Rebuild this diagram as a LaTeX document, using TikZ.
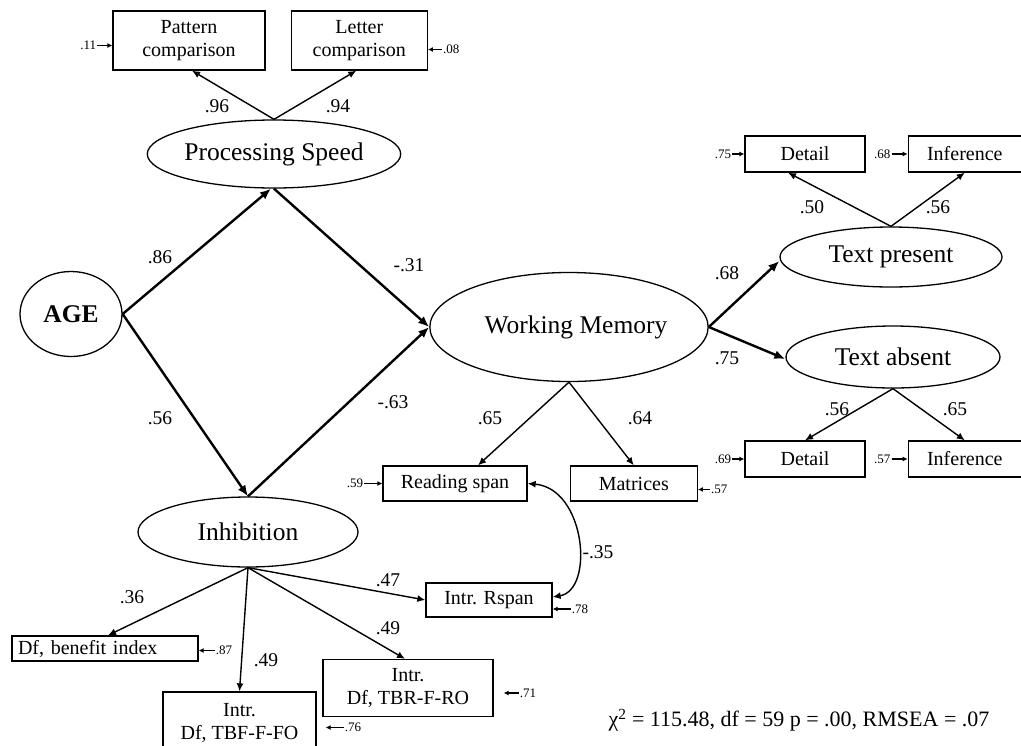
\documentclass[tikz,border=0pt]{standalone}
\usepackage{fontspec}
\setmainfont{Liberation Serif}
\usepackage{tikz}
\usetikzlibrary{arrows.meta,positioning,shapes.geometric}
\newcommand{\latfont}{\fontsize{25.5}{27}\selectfont}
\newcommand{\boxfont}{\fontsize{20}{23}\selectfont}
\newcommand{\coeffont}{\fontsize{19.5}{21}\selectfont}
\newcommand{\resfont}{\fontsize{13}{14}\selectfont}
\newcommand{\fitfont}{\fontsize{22}{24}\selectfont}

\begin{document}
\begin{tikzpicture}[
  x=1pt, y=-1pt,
  >={Latex[length=8pt,width=7pt]},
  lat/.style={draw, ellipse, line width=1.3pt, inner sep=0pt, font=\latfont},
  box/.style={draw, line width=1.3pt, align=center, inner sep=0pt, font=\boxfont},
  line/.style={->, line width=2.4pt, >={Latex[length=11pt,width=9pt]}},
  load/.style={->, line width=1.4pt},
  coef/.style={font=\coeffont, inner sep=1pt},
  res/.style={font=\resfont, inner sep=1pt},
  resarr/.style={->, line width=1.3pt, >={Latex[length=5pt,width=5pt]}}
]
\useasboundingbox (0,0) rectangle (1021,745);

% latent variables
\node[lat, minimum width=102pt, minimum height=85pt, font=\latfont\bfseries] (age) at (71,314) {AGE};
\node[lat, minimum width=238pt, minimum height=68pt] (ps) at (274,154) {Processing Speed};
\node[lat, minimum width=219pt, minimum height=109pt] (wm) at (569,327) {\hspace*{14pt}Working Memory};
\node[lat, minimum width=220pt, minimum height=70pt] (inh) at (248,532) {Inhibition};
\node[lat, minimum width=222pt, minimum height=60pt] (tp) at (891,257) {Text present};
\node[lat, minimum width=214pt, minimum height=62pt] (ta) at (893,357) {Text absent};

% observed measures
\node[box, minimum width=152pt, minimum height=59pt] (pc) at (189,40.5) {Pattern\\comparison};
\node[box, minimum width=136pt, minimum height=59pt, right=25pt of pc] (lc) {Letter\\comparison};
\node[box, minimum width=120pt, minimum height=36pt] (dt1) at (805,154) {Detail};
\node[box, minimum width=113pt, minimum height=36pt, right=42pt of dt1] (inf1) {Inference};
\node[box, minimum width=120pt, minimum height=36pt] (dt2) at (805,459) {Detail};
\node[box, minimum width=113pt, minimum height=36pt, right=42pt of dt2] (inf2) {Inference};
\node[box, minimum width=144pt, minimum height=35pt] (rs) at (455,483.5) {Reading span};
\node[box, minimum width=127pt, minimum height=35pt, right=42pt of rs] (mat) {Matrices};
\node[box, minimum width=126pt, minimum height=34pt] (ir) at (489,600) {Intr. Rspan};
\node[box, minimum width=186pt, minimum height=25pt, text width=174pt, align=left] (dfb) at (105,648.5) {Df, benefit index};
\node[box, minimum width=153pt, minimum height=61pt] (tbf) at (239.5,722.5) {Intr.\\Df, TBF-F-FO};
\node[box, minimum width=170pt, minimum height=57pt] (tbr) at (408,688) {Intr.\\Df, TBR-F-RO};

% structural paths
\draw[line] (age.east) -- ([xshift=-3pt]ps.south);
\draw[line] (ps.south) -- (wm.west);
\draw[line] (age.east) -- (inh.north);
\draw[line] (inh.north) -- (wm.west);
\draw[line] (wm.east) -- ([yshift=-4pt]tp.west);
\draw[line] (wm.east) -- ([yshift=-2pt]ta.west);

% loadings
\draw[load] (ps.north) -- ([xshift=3pt]pc.south);
\draw[load] (ps.north) -- ([xshift=-3pt]lc.south);
\draw[load] (tp.north) -- ([xshift=-17pt]dt1.south);
\draw[load] (tp.north) -- (inf1.south);
\draw[load] (ta.south) -- (dt2.north);
\draw[load] (ta.south) -- (inf2.north);
\draw[load] (wm.south) -- ([xshift=23pt]rs.north);
\draw[load] (wm.south) -- (mat.north);
\draw[load] (inh.south) -- ([xshift=3pt]dfb.north);
\draw[load] (inh.south) -- (tbf.north);
\draw[load] (inh.south) -- ([xshift=-3pt]tbr.north);
\draw[load] (inh.south) -- (ir.west);
\draw[load, <->] (rs.east) .. controls +(58,5) and +(42,-7) .. ([yshift=3pt]ir.east);

% coefficients
\node[coef] (c1) at (217,106) {.96};
\node[coef] (c2) at (338,106) {.94};
\node[coef] (c3) at (160,257) {.86};
\node[coef] (c4) at (160,418) {.56};
\node[coef] (c5) at (409,265) {-.31};
\node[coef] (c6) at (393,402) {-.63};
\node[coef] (c7) at (727,273) {.68};
\node[coef] (c8) at (727,358) {.75};
\node[coef] (c9) at (812,207) {.50};
\node[coef] (c10) at (938,207) {.56};
\node[coef] (c11) at (837,409) {.56};
\node[coef] (c12) at (955,409) {.65};
\node[coef] (c13) at (490,418) {.65};
\node[coef] (c14) at (640,418) {.64};
\node[coef] (c15) at (598,552) {-.35};
\node[coef] (c16) at (132,597) {.36};
\node[coef] (c17) at (388,580) {.47};
\node[coef] (c18) at (388,628) {.49};
\node[coef] (c19) at (266,660) {.49};

% residuals
\node[res, left=15pt of pc, yshift=-5pt] (e-pc) {.11};
\draw[resarr] (e-pc) -- (e-pc -| pc.west);
\node[res, right=14pt of lc, yshift=-9pt] (e-lc) {.08};
\draw[resarr] (e-lc) -- (e-lc -| lc.east);
\node[res, left=12pt of dt1] (e-dt1) {.75};
\draw[resarr] (e-dt1) -- (e-dt1 -| dt1.west);
\node[res, left=16pt of inf1] (e-inf1) {.68};
\draw[resarr] (e-inf1) -- (e-inf1 -| inf1.west);
\node[res, left=12pt of dt2] (e-dt2) {.69};
\draw[resarr] (e-dt2) -- (e-dt2 -| dt2.west);
\node[res, left=16pt of inf2] (e-inf2) {.57};
\draw[resarr] (e-inf2) -- (e-inf2 -| inf2.west);
\node[res, left=18pt of rs] (e-rs) {.59};
\draw[resarr] (e-rs) -- (e-rs -| rs.west);
\node[res, right=12pt of mat, yshift=-6pt] (e-mat) {.57};
\draw[resarr] (e-mat) -- (e-mat -| mat.east);
\node[res, right=18pt of ir, yshift=-9pt] (e-ir) {.78};
\draw[resarr] (e-ir) -- (e-ir -| ir.east);
\node[res, right=16pt of dfb, yshift=-2pt] (e-dfb) {.87};
\draw[resarr] (e-dfb) -- (e-dfb -| dfb.east);
\node[res, right=27pt of tbf, yshift=-5pt] (e-tbf) {.76};
\draw[resarr, shorten >=9pt] (e-tbf) -- (e-tbf -| tbf.east);
\node[res, right=25pt of tbr, yshift=-5pt] (e-tbr) {.71};
\draw[resarr, shorten >=10pt] (e-tbr) -- (e-tbr -| tbr.east);

% fit
\node[font=\fitfont] (fit) at (799,720) {χ\textsuperscript{2} = 115.48, df = 59 p = .00, RMSEA = .07};
\end{tikzpicture}
\end{document}
